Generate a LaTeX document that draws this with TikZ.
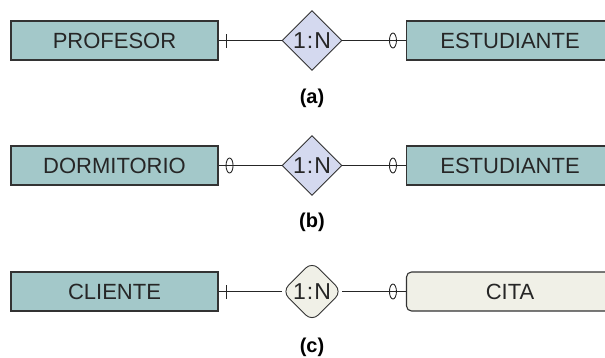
\documentclass[tikz,border=0pt]{standalone}
\usepackage{fontspec}
\setmainfont{Liberation Sans}
\usetikzlibrary{shapes.geometric}
\definecolor{entfill}{HTML}{A3C8C9}
\definecolor{relfill}{HTML}{D4D9EF}
\definecolor{weakfill}{HTML}{F0F0E7}
\definecolor{bord}{HTML}{333333}
\tikzset{
  entity/.style={draw=bord, line width=1.1pt, fill=entfill, minimum width=207pt, minimum height=39pt, inner sep=0pt, font=\fontsize{22}{24}\selectfont, text=black!85},
  weakent/.style={entity, fill=weakfill, rounded corners=5pt},
  rel/.style={diamond, draw=black!80, line width=0.9pt, fill=relfill, minimum width=60pt, minimum height=60pt, inner sep=0pt, aspect=1, font=\fontsize{23}{24}\selectfont, text=black!85},
  weakrel/.style={rel, fill=weakfill, rounded corners=9pt},
  sublabel/.style={font=\bfseries\fontsize{20}{22}\selectfont},
  conn/.style={line width=0.8pt, draw=black!85},
  optmark/.style={ellipse, draw=black!85, line width=0.9pt, minimum width=7pt, minimum height=15pt, inner sep=0pt},
}
\begin{document}
\begin{tikzpicture}[x=1pt,y=-1pt]
\useasboundingbox (0,0) rectangle (605,357);
\clip (0,0) rectangle (605,357);
% (a)
\node[entity] (prof) at (114.5,40.5) {PROFESOR};
\node[rel] (ra) at (312,40.5) {1\kern1pt:\kern1pt N};
\node[entity] (esta) at (510,40.5) {ESTUDIANTE};
\node[sublabel] (la) at (312,98) {(a)};
\draw[conn] (prof.east) -- (ra.west);
\draw[conn] (ra.east) -- (esta.west);
\draw[conn] ([xshift=8pt,yshift=-7pt]prof.east) -- ([xshift=8pt,yshift=7pt]prof.east);
\node[optmark] (oa) at ([xshift=-13pt]esta.west) {};
% (b)
\node[entity] (dorm) at (114.5,165.5) {DORMITORIO};
\node[rel] (rb) at (312,165.5) {1\kern1pt:\kern1pt N};
\node[entity] (estb) at (510,165.5) {ESTUDIANTE};
\node[sublabel] (lb) at (312,222) {(b)};
\draw[conn] (dorm.east) -- (rb.west);
\draw[conn] (rb.east) -- (estb.west);
\node[optmark] (ob1) at ([xshift=11pt]dorm.east) {};
\node[optmark] (ob2) at ([xshift=-13pt]estb.west) {};
% (c)
\node[entity] (cli) at (114.5,291.5) {CLIENTE};
\node[weakrel] (rc) at (312,291.5) {1\kern1pt:\kern1pt N};
\node[weakent] (cita) at (510,291.5) {CITA};
\node[sublabel] (lc) at (312,347) {(c)};
\draw[conn] (cli.east) -- (rc.west);
\draw[conn] (rc.east) -- (cita.west);
\draw[conn] ([xshift=8pt,yshift=-7pt]cli.east) -- ([xshift=8pt,yshift=7pt]cli.east);
\node[optmark] (oc) at ([xshift=-13pt]cita.west) {};
\end{tikzpicture}
\end{document}
